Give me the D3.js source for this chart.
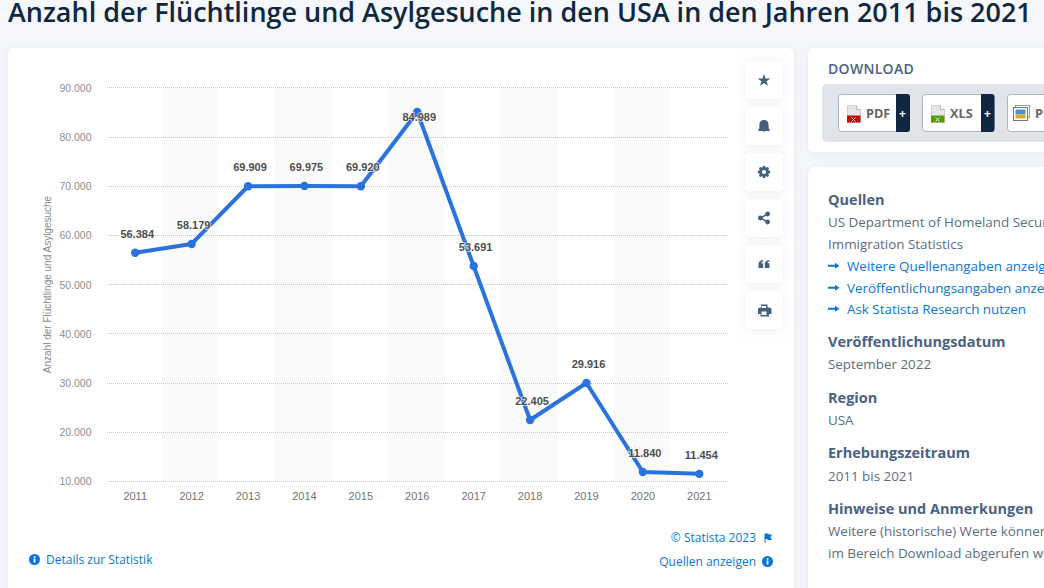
<!DOCTYPE html>
<html><head><meta charset="utf-8">
<script src="https://cdn.jsdelivr.net/npm/d3@7/dist/d3.min.js"></script>
<style>
html,body{margin:0;padding:0;width:1044px;height:588px;overflow:hidden;background:#f5f7fa}
svg{display:block}
</style></head><body>
<div id="c"></div>
<script>
const years = ["2011","2012","2013","2014","2015","2016","2017","2018","2019","2020","2021"];
const refugees = [56384,58179,69909,69975,69920,84989,53691,22405,29916,11840,11454];
const valueLabels = ["56.384","58.179","69.909","69.975","69.920","84.989","53.691","22.405","29.916","11.840","11.454"];
const yTicks = [10000,20000,30000,40000,50000,60000,70000,80000,90000];
const titleText = "Anzahl der Flüchtlinge und Asylgesuche in den USA in den Jahren 2011 bis 2021";
const yAxisTitle = "Anzahl der Flüchtlinge und Asylgesuche";

const W=1044,H=588;
const svg=d3.select("#c").append("svg").attr("width",W).attr("height",H).attr("viewBox",`0 0 ${W} ${H}`);
const defs=svg.append("defs");
const fl=defs.append("filter").attr("id","sh").attr("x","-20%").attr("y","-20%").attr("width","140%").attr("height","140%");
fl.append("feDropShadow").attr("dx",0).attr("dy",1).attr("stdDeviation",5).attr("flood-color","#6f7f9c").attr("flood-opacity",0.13);

const sans="'Open Sans',sans-serif", arial="'Liberation Sans',Arial,sans-serif";
const dark="#0f2740", slate="#4a6282", body="#5b6d80", link="#0a76d6";

svg.append("text").attr("x",8).attr("y",22).attr("font-family",sans).attr("font-weight",600).attr("font-size",26.97)
  .attr("fill",dark).text(titleText);

// cards
svg.append("rect").attr("x",8).attr("y",48).attr("width",786).attr("height",560).attr("rx",6).attr("fill","#fff").attr("filter","url(#sh)");
svg.append("rect").attr("x",808).attr("y",48).attr("width",300).attr("height",104).attr("rx",6).attr("fill","#fff").attr("filter","url(#sh)");
svg.append("rect").attr("x",808).attr("y",167).attr("width",300).attr("height",450).attr("rx",6).attr("fill","#fff").attr("filter","url(#sh)");

// scales
const x=d3.scaleBand().domain(years).range([107,727.5]).paddingInner(0).paddingOuter(0);
const y=d3.scaleLinear().domain([10000,90000]).range([481,87.4]);

// alternate bands
svg.append("g").selectAll("rect").data(years.filter((d,i)=>i%2==1)).join("rect")
  .attr("x",d=>x(d)-1.2).attr("width",x.bandwidth()).attr("y",y(90000)).attr("height",y(10000)-y(90000)).attr("fill","#fafafa");

// grid
svg.append("g").selectAll("line").data(yTicks).join("line")
  .attr("x1",107).attr("x2",728).attr("y1",d=>Math.round(y(d))+.5).attr("y2",d=>Math.round(y(d))+.5)
  .attr("stroke","#c6c6c6").attr("stroke-width",1).attr("stroke-dasharray","1 1");

// axes
const yAxis=d3.axisLeft(y).tickValues(yTicks).tickSize(0).tickPadding(0).tickFormat(d=>d3.format(",")(d).replace(/,/g,"."));
const ya=svg.append("g").attr("transform","translate(91.5,0.5)").call(yAxis);
ya.select(".domain").remove();
ya.selectAll("text").attr("font-family",arial).attr("font-size",10.5).attr("fill","#8f8f8f");
const xAxis=d3.axisBottom(x).tickSize(0).tickPadding(0);
const xa=svg.append("g").attr("transform","translate(0,492)").call(xAxis);
xa.select(".domain").remove();
xa.selectAll("text").attr("font-family",arial).attr("font-size",11).attr("fill","#737373").attr("dy","0.71em");

svg.append("text").attr("transform","translate(50.5,284.5) rotate(-90)").attr("text-anchor","middle")
  .attr("font-family",arial).attr("font-size",10).attr("fill","#888").text(yAxisTitle);

// line
const cx=d=>x(d)+x.bandwidth()/2;
const line=d3.line().x((d,i)=>cx(years[i])).y(d=>y(d));
svg.append("path").datum(refugees).attr("d",line).attr("fill","none").attr("stroke","#2a72de").attr("stroke-width",4).attr("stroke-linejoin","round");
svg.append("g").selectAll("circle").data(refugees).join("circle")
  .attr("cx",(d,i)=>cx(years[i])).attr("cy",d=>y(d)).attr("r",4.2).attr("fill","#2a72de");
// the peak's label sits just below its point, every other label above
svg.append("g").selectAll("text").data(refugees).join("text")
  .attr("x",(d,i)=>cx(years[i])+2).attr("y",(d,i)=>y(d)+(i==5?9:-15))
  .attr("text-anchor","middle").attr("font-family",arial).attr("font-weight",700).attr("font-size",11).attr("fill","#4d4d4d")
  .attr("stroke","#fff").attr("stroke-width",1.6).attr("stroke-opacity",.75).attr("paint-order","stroke")
  .text((d,i)=>valueLabels[i]);

// side buttons
const btnY=[61,107,153,199,245,291];
const ic="#44607f";
const bg=svg.append("g");
btnY.forEach(b=>bg.append("rect").attr("x",745).attr("y",b).attr("width",38).attr("height",38).attr("rx",4).attr("fill","#fff").attr("filter","url(#sh)"));
const mid=764;
bg.append("path").attr("transform",`translate(${mid},${80.5})`).attr("d",d3.symbol(d3.symbolStar,52)()).attr("fill",ic);
bg.append("path").attr("d",`M${mid} 120c-3.300 0-4.600 2.300-4.600 5v3l-1.400 3h12l-1.400-3v-3c0-2.700-1.300-5-4.600-5z M${mid-1.500} 131.500h3l-1.500 .8z`).attr("fill",ic);
bg.append("circle").attr("cx",mid).attr("cy",172).attr("r",3.6).attr("fill","none").attr("stroke",ic).attr("stroke-width",3);
d3.range(8).forEach(i=>bg.append("rect").attr("x",mid-1.1).attr("y",172-6.2).attr("width",2.2).attr("height",1.8).attr("fill",ic).attr("transform",`rotate(${i*45} ${mid} 172)`));
bg.append("path").attr("d",`M${mid+3.6} 214 L${mid-3.6} 218 L${mid+3.6} 222`).attr("fill","none").attr("stroke",ic).attr("stroke-width",1.5);
[[3.6,214],[-3.600,218],[3.6,222]].forEach(p=>bg.append("circle").attr("cx",mid+p[0]).attr("cy",p[1]).attr("r",2.4).attr("fill",ic));
[-5.5,.8].forEach(o=>bg.append("path").attr("d",`M${mid+o} 268v-4c0-2 1.300-3.500 4.500-4v1.600c-1.100.3-1.700.8-1.800 1.600h1.900v4.800z`).attr("fill",ic));
bg.append("path").attr("fill",ic).attr("fill-rule","evenodd").attr("d",`M${mid-3.500} 304.500h7v3h2a2 2 0 0 1 2 2v4.500h-2.500v2.500h-8.500v-2.500h-2.500v-4.500a2 2 0 0 1 2-2h2z M${mid-2} 306v2h4v-2z M${mid-2.500} 311.500v3.500h5v-3.500z`);

// links under chart
function info(cx0,cy0){
  svg.append("circle").attr("cx",cx0).attr("cy",cy0).attr("r",5.5).attr("fill",link);
  svg.append("rect").attr("x",cx0-.8).attr("y",cy0-1).attr("width",1.7).attr("height",4).attr("fill","#fff");
  svg.append("rect").attr("x",cx0-.8).attr("y",cy0-3.4).attr("width",1.7).attr("height",1.6).attr("fill","#fff");
}
const lk=(xx,yy,t,a)=>svg.append("text").attr("x",xx).attr("y",yy).attr("text-anchor",a||"start").attr("font-family",sans).attr("font-size",12).attr("fill",link).text(t);
info(34.5,559.5); lk(46,564,"Details zur Statistik");
lk(756,542,"© Statista 2023","end");
lk(756,566,"Quellen anzeigen","end"); info(767.5,561.5);
svg.append("path").attr("d","M764.500 533.500v9.500h1v-4h1.500l1 1h4l-1.500-2.700 1.500-2.800h-3l-1-1z").attr("fill",link);

// download
svg.append("text").attr("x",828).attr("y",74).attr("font-family",sans).attr("font-weight",600).attr("font-size",14).attr("letter-spacing",.3).attr("fill",slate).text("DOWNLOAD");
svg.append("rect").attr("x",822).attr("y",84).attr("width",240).attr("height",58).attr("rx",5).attr("fill","#e1e4e8");
[[838.5,"PDF","#c70a0a",71],[922.5,"XLS","#5a9a0a",71.5],[1007.5,"PP","#5a9ad0",72]].forEach(([bx,t,col,w],i)=>{
  svg.append("rect").attr("x",bx).attr("y",94.5).attr("width",w).attr("height",37).attr("rx",3).attr("fill","#fff").attr("stroke","#a9b6c6");
  if(i<2){
    const ds=i==0?57.5:58.5;
    svg.append("path").attr("d",`M${bx+ds} 94h${w-ds-2.5}a3 3 0 0 1 3 3v32a3 3 0 0 1-3 3h-${w-ds-2.5}z`).attr("fill",dark);
    svg.append("text").attr("x",bx+ds+6.5).attr("y",117.5).attr("text-anchor","middle").attr("font-family",sans).attr("font-weight",700).attr("font-size",12).attr("fill","#fff").text("+");
    svg.append("path").attr("d",`M${bx+9} 105.500h9l4 4v13h-13z`).attr("fill","#e6e6e6").attr("stroke","#bdbdbd").attr("stroke-width",.6);
    svg.append("path").attr("d",`M${bx+18} 105.500v4h4`).attr("fill","#fff").attr("stroke","#999").attr("stroke-width",.6);
    svg.append("rect").attr("x",bx+8.5).attr("y",115.500).attr("width",13.500).attr("height",7).attr("fill",col);
    svg.append("path").attr("d",`M${bx+13} 121.500l4-4m-4 0l4 4`).attr("stroke","#fff").attr("stroke-width",.8);
    svg.append("text").attr("x",bx+27.5).attr("y",118).attr("font-family",sans).attr("font-weight",700).attr("font-size",12.7).attr("fill","#666").text(t);
  } else {
    svg.append("rect").attr("x",bx+8).attr("y",105.500).attr("width",14).attr("height",12).attr("fill","#fff").attr("stroke","#999");
    svg.append("rect").attr("x",bx+6).attr("y",107.500).attr("width",14).attr("height",13).attr("fill","#fff").attr("stroke","#777");
    svg.append("rect").attr("x",bx+8).attr("y",109.500).attr("width",10).attr("height",5).attr("fill","#4c93d6");
    svg.append("rect").attr("x",bx+8).attr("y",114.500).attr("width",10).attr("height",4).attr("fill","#e0a92e");
    svg.append("text").attr("x",bx+27.5).attr("y",118).attr("font-family",sans).attr("font-weight",700).attr("font-size",12.7).attr("fill","#666").text(t);
  }
});

// info panel
const hd=(yy,t)=>svg.append("text").attr("x",828).attr("y",yy).attr("font-family",sans).attr("font-weight",700).attr("font-size",14.5).attr("fill",slate).text(t);
const tx=(yy,t)=>svg.append("text").attr("x",828).attr("y",yy).attr("font-family",sans).attr("font-size",13.4).attr("fill",body).text(t);
hd(205,"Quellen");
tx(227,"US Department of Homeland Security; Office of");
tx(249,"Immigration Statistics");
[["Weitere Quellenangaben anzeigen",266],["Veröffentlichungsangaben anzeigen",288],["Ask Statista Research nutzen",309]].forEach(([t,yy])=>{
  svg.append("text").attr("x",847).attr("y",yy+4.500).attr("font-family",sans).attr("font-size",13.4).attr("fill",link).text(t);
  svg.append("path").attr("d",`M828 ${yy-1.200}h7v-2l4.500 3-4.500 3v-2h-7z`).attr("fill",link);
});
hd(347,"Veröffentlichungsdatum"); tx(369,"September 2022");
hd(403,"Region"); tx(425,"USA");
hd(458,"Erhebungszeitraum"); tx(481,"2011 bis 2021");
hd(514,"Hinweise und Anmerkungen");
tx(536,"Weitere (historische) Werte können");
tx(558,"im Bereich Download abgerufen werden.");
</script>
</body></html>
